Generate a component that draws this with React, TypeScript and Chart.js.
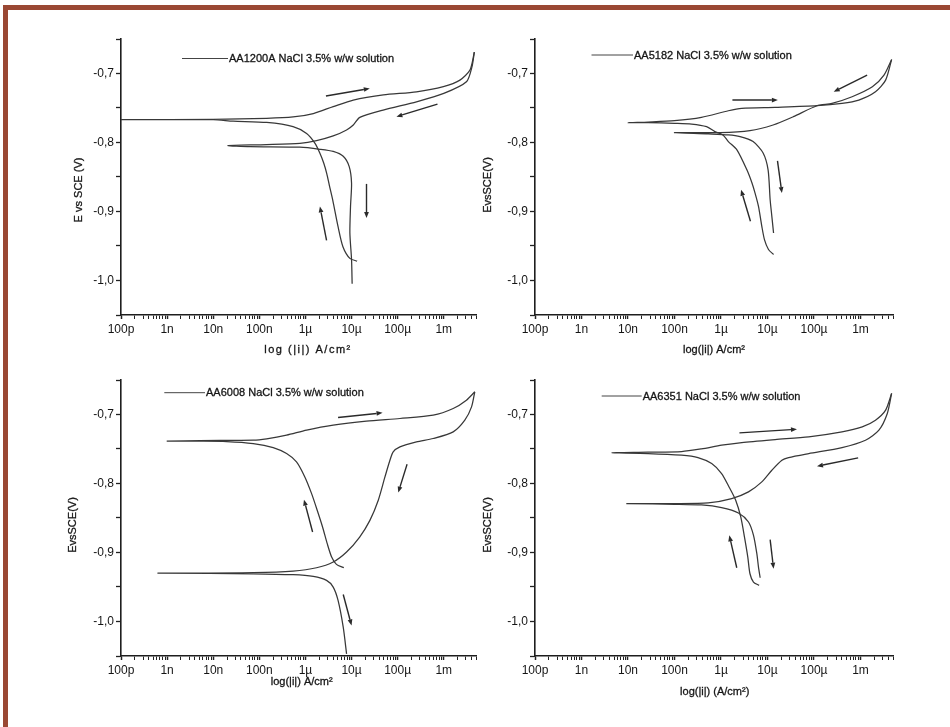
import React, { useEffect, useRef } from 'react';
import { Chart, registerables } from 'chart.js';

Chart.register(...registerables);

// ---------------- data ----------------
const xTickExponents = [-10, -9, -8, -7, -6, -5, -4, -3];
const xTickLabels = ['100p', '1n', '10n', '100n', '1µ', '10µ', '100µ', '1m'];
const yTickValues = [-0.7, -0.8, -0.9, -1.0];
const yTickLabels = ['-0,7', '-0,8', '-0,9', '-1,0'];

const legendLabels = [
  'AA1200A NaCl 3.5% w/w solution',
  'AA5182 NaCl 3.5% w/w solution',
  'AA6008 NaCl 3.5% w/w solution',
  'AA6351 NaCl 3.5% w/w solution',
];
const yTitles = ['E vs SCE (V)', 'EvsSCE(V)', 'EvsSCE(V)', 'EvsSCE(V)'];
const xTitles = ['log (|i|) A/cm²', 'log(|i|) A/cm²', 'log(|i|) A/cm²', 'log(|i|) (A/cm²)'];

// AA1200A
const aa1200ForwardI = [1.32e-5, 9.2e-6, 6.5e-6, 5.1e-6, 3.9e-6, 3.3e-6, 2.9e-6, 2.5e-6, 2.06e-6, 1.6e-6, 1.06e-6, 5.4e-7, 1.44e-7, 2.7e-8, 1e-8, 1e-10, 1e-8, 1.44e-7, 5.4e-7, 1.48e-6, 4e-6, 1.09e-5, 4.9e-5, 2.56e-4, 9.8e-4, 2.24e-3, 3.7e-3, 4.6e-3];
const aa1200ForwardE = [-0.972, -0.968, -0.951, -0.922, -0.883, -0.862, -0.845, -0.83, -0.8156, -0.801, -0.787, -0.777, -0.771, -0.769, -0.767, -0.767, -0.7665, -0.765, -0.763, -0.758, -0.748, -0.7385, -0.731, -0.7265, -0.719, -0.7096, -0.695, -0.669];
const aa1200ReverseI = [4.6e-3, 4.1e-3, 3.1e-3, 1e-3, 2.56e-4, 4.85e-5, 1.51e-5, 1.09e-5, 7.8e-6, 4e-6, 1.74e-6, 7.6e-7, 1.44e-7, 2.1e-8, 6.3e-8, 7.6e-7, 2.06e-6, 4e-6, 6.6e-6, 8.9e-6, 1e-5, 9.5e-6, 9.2e-6, 1e-5, 1.03e-5];
const aa1200ReverseE = [-0.669, -0.69, -0.712, -0.7289, -0.741, -0.753, -0.7636, -0.7746, -0.7818, -0.7905, -0.7973, -0.8011, -0.803, -0.8045, -0.806, -0.8068, -0.8098, -0.813, -0.82, -0.835, -0.859, -0.8926, -0.931, -0.9696, -1.0048];
const aa1200Arrows = [
  [2.78e-6, -0.7327, 2.49e-5, -0.7217],
  [7.3e-4, -0.7443, 9.4e-5, -0.7626],
  [2.87e-6, -0.9417, 2.06e-6, -0.8926],
  [2.11e-5, -0.86, 2.11e-5, -0.9094],
];

// AA5182
const aa5182ForwardI = [1.35e-5, 1.05e-5, 8.6e-6, 7.55e-6, 6.4e-6, 5.4e-6, 4.6e-6, 3.6e-6, 2.2e-6, 1.44e-6, 1.1e-6, 7.4e-7, 4.9e-7, 2.33e-7, 1e-7, 2.7e-8, 1e-8, 2.7e-8, 1e-7, 3.8e-7, 1.44e-6, 2.8e-6, 1.46e-5, 1.16e-4, 4.0e-4, 9.2e-4, 2.1e-3, 3.47e-3, 4.67e-3];
const aa5182ForwardE = [-0.9624, -0.955, -0.9407, -0.9215, -0.8926, -0.8733, -0.858, -0.8396, -0.8107, -0.7987, -0.789, -0.7843, -0.777, -0.7732, -0.7722, -0.7713, -0.7713, -0.7703, -0.7684, -0.7636, -0.754, -0.7506, -0.7491, -0.7467, -0.7433, -0.7385, -0.7265, -0.7096, -0.6798];
const aa5182ReverseI = [4.67e-3, 3.2e-3, 1.8e-3, 6.6e-4, 2.44e-4, 1.16e-4, 3.6e-5, 1.32e-5, 4.2e-6, 9.5e-7, 1e-7, 5.3e-7, 1.44e-6, 2.57e-6, 4.9e-6, 8.05e-6, 1.03e-5, 1.14e-5, 1.24e-5, 1.35e-5];
const aa5182ReverseE = [-0.6798, -0.7024, -0.7193, -0.7337, -0.7433, -0.7467, -0.7626, -0.7746, -0.7828, -0.7857, -0.7857, -0.7876, -0.789, -0.7915, -0.7987, -0.8151, -0.8396, -0.883, -0.907, -0.9311];
const aa5182Arrows = [
  [1.76e-6, -0.7385, 1.67e-5, -0.7385],
  [1.39e-3, -0.7024, 2.65e-4, -0.7265],
  [4.3e-6, -0.9142, 2.7e-6, -0.8685],
  [1.64e-5, -0.8266, 2.04e-5, -0.8733],
];

// AA6008
const aa6008ForwardI = [6.8e-6, 4.7e-6, 3.7e-6, 2.97e-6, 2.35e-6, 1.8e-6, 1.36e-6, 9.7e-7, 6.4e-7, 3.9e-7, 2.0e-7, 7.4e-8, 1.95e-8, 5.15e-9, 9.8e-10, 5.15e-9, 7.4e-8, 1.44e-7, 3.9e-7, 1.06e-6, 4e-6, 2.1e-5, 1.12e-4, 5.9e-4, 1.6e-3, 3.1e-3, 4.7e-3];
const aa6008ForwardE = [-0.922, -0.9172, -0.9066, -0.8872, -0.863, -0.8388, -0.8147, -0.7905, -0.7687, -0.7566, -0.7479, -0.7421, -0.7392, -0.7387, -0.7387, -0.7377, -0.7373, -0.7353, -0.73, -0.7227, -0.7155, -0.7097, -0.7058, -0.701, -0.6913, -0.6792, -0.6671];
const aa6008ReverseI = [4.7e-3, 4.0e-3, 2.86e-3, 1.6e-3, 5.9e-4, 2.56e-4, 1.12e-4, 8.0e-5, 6.8e-5, 5.3e-5, 3.8e-5, 2.5e-5, 1.5e-5, 7.8e-6, 4e-6, 1.74e-6, 5.4e-7, 7.4e-8, 5.15e-9, 6.4e-10, 7.4e-8, 5.4e-7, 1.48e-6, 2.87e-6, 4.0e-6, 5.1e-6, 6.6e-6, 7.8e-6];
const aa6008ReverseE = [-0.6671, -0.6889, -0.7082, -0.7252, -0.7348, -0.7397, -0.7469, -0.7542, -0.7663, -0.7905, -0.8243, -0.8534, -0.8776, -0.8993, -0.9138, -0.9221, -0.9269, -0.9293, -0.9298, -0.9298, -0.9308, -0.9322, -0.9347, -0.9404, -0.9501, -0.9695, -1.0082, -1.0469];
const aa6008Arrows = [
  [5.1e-6, -0.7044, 4.7e-5, -0.6976],
  [1.43e-6, -0.8703, 9.3e-7, -0.8234],
  [1.6e-4, -0.7721, 1.03e-4, -0.8132],
  [6.6e-6, -0.9608, 1.0e-5, -1.0058],
];

// AA6351
const aa6351ForwardI = [6.6e-6, 4.99e-6, 4.2e-6, 3.77e-6, 3.2e-6, 2.66e-6, 2.07e-6, 1.49e-6, 1.03e-6, 6.3e-7, 3.2e-7, 1.42e-7, 2.7e-8, 4.37e-9, 2.7e-8, 1.42e-7, 3.8e-7, 1.03e-6, 2.8e-6, 1.46e-5, 7.7e-5, 4.0e-4, 1.09e-3, 2.1e-3, 3.47e-3, 4.67e-3];
const aa6351ForwardE = [-0.9477, -0.9429, -0.9308, -0.9066, -0.8776, -0.8485, -0.8243, -0.805, -0.7856, -0.7711, -0.7624, -0.759, -0.7566, -0.7556, -0.7547, -0.7537, -0.7498, -0.7445, -0.7406, -0.7363, -0.7324, -0.7252, -0.7179, -0.7082, -0.6937, -0.6695];
const aa6351ReverseI = [4.67e-3, 3.77e-3, 2.49e-3, 1.28e-3, 4.0e-4, 7.7e-5, 2.84e-5, 2.04e-5, 1.24e-5, 7.55e-6, 3.9e-6, 1.7e-6, 5.3e-7, 1e-7, 9.2e-9, 1e-7, 3.8e-7, 1.03e-6, 2.37e-6, 3.9e-6, 5.0e-6, 5.9e-6, 6.4e-6, 6.95e-6];
const aa6351ReverseE = [-0.6695, -0.6985, -0.7227, -0.7373, -0.7479, -0.7566, -0.7624, -0.7663, -0.7808, -0.7977, -0.8122, -0.8219, -0.8282, -0.8292, -0.8292, -0.8301, -0.8311, -0.835, -0.8427, -0.8558, -0.8751, -0.9017, -0.9211, -0.9366];
const aa6351Arrows = [
  [2.49e-6, -0.7266, 4.3e-5, -0.7213],
  [8.9e-4, -0.7629, 1.16e-4, -0.775],
  [2.18e-6, -0.9221, 1.51e-6, -0.8751],
  [1.14e-5, -0.8814, 1.35e-5, -0.9235],
];

// ---------------- layout / style ----------------
const X_MIN = 1e-10;
const X_MAX = 5e-3;
const Y_MIN = -1.05;
const Y_MAX = -0.65;
const FONT = '"Liberation Sans", Arial, sans-serif';
const PAD_L = 75, PAD_T = 30, PAD_R = 15, PAD_B = 60;
const TEXT_COLOR = '#151515';

type Panel = {
  left: number; top: number; right: number; bottom: number;
  idx: number;
  fI: number[]; fE: number[]; rI: number[]; rE: number[];
  arrows: number[][];
  legDx: number; legDy: number; legLen: number;
  yTx: number; yTy: number; xTx: number; xTy: number; xSpacing: number;
};

const panels: Panel[] = [
  { left: 121, top: 39, right: 476, bottom: 315, idx: 0, fI: aa1200ForwardI, fE: aa1200ForwardE, rI: aa1200ReverseI, rE: aa1200ReverseE, arrows: aa1200Arrows, legDx: 61, legDy: 19.5, legLen: 46, yTx: -42, yTy: 151, xTx: 187, xTy: 35, xSpacing: 1.5 },
  { left: 535, top: 39, right: 893, bottom: 315, idx: 1, fI: aa5182ForwardI, fE: aa5182ForwardE, rI: aa5182ReverseI, rE: aa5182ReverseE, arrows: aa5182Arrows, legDx: 56.5, legDy: 16, legLen: 41.5, yTx: -47.5, yTy: 146, xTx: 179, xTy: 35, xSpacing: 0 },
  { left: 121, top: 380, right: 476, bottom: 656, idx: 2, fI: aa6008ForwardI, fE: aa6008ForwardE, rI: aa6008ReverseI, rE: aa6008ReverseE, arrows: aa6008Arrows, legDx: 43.3, legDy: 12.7, legLen: 40.7, yTx: -48, yTy: 145, xTx: 180.7, xTy: 25.7, xSpacing: 0 },
  { left: 535, top: 380, right: 893, bottom: 656, idx: 3, fI: aa6351ForwardI, fE: aa6351ForwardE, rI: aa6351ReverseI, rE: aa6351ReverseE, arrows: aa6351Arrows, legDx: 66.7, legDy: 16, legLen: 40, yTx: -47.5, yTy: 145, xTx: 179.7, xTy: 35.7, xSpacing: 0 },
];

function buildXTicks(): number[] {
  const out: number[] = [];
  for (const e of xTickExponents) {
    const d = Math.pow(10, e);
    for (let k = 1; k <= 9; k++) {
      const v = k * d;
      if (v <= X_MAX * 1.0001) out.push(v);
    }
  }
  return out;
}

function decadeLabel(v: number): string {
  const lg = Math.log10(v);
  const r = Math.round(lg);
  if (Math.abs(lg - r) < 1e-6) {
    const i = xTickExponents.indexOf(r);
    return i >= 0 ? xTickLabels[i] : '';
  }
  return '';
}

function yLabel(v: number): string {
  const i = yTickValues.findIndex((t) => Math.abs(t - v) < 1e-6);
  return i >= 0 ? yTickLabels[i] : '';
}

function PanelChart({ p }: { p: Panel }) {
  const ref = useRef<HTMLCanvasElement>(null);
  const w = p.right - p.left + PAD_L + PAD_R;
  const h = p.bottom - p.top + PAD_T + PAD_B;

  useEffect(() => {
    if (!ref.current) return;
    const overlay = {
      id: 'overlay' + p.idx,
      afterDraw(chart: any) {
        const ctx: CanvasRenderingContext2D = chart.ctx;
        const ca = chart.chartArea;
        const xs = chart.scales.x;
        const ys = chart.scales.y;
        ctx.save();
        // arrows
        ctx.strokeStyle = '#2a2a2a';
        ctx.fillStyle = '#2a2a2a';
        ctx.lineWidth = 1.4;
        for (const a of p.arrows) {
          const x1 = xs.getPixelForValue(a[0]);
          const y1 = ys.getPixelForValue(a[1]);
          const x2 = xs.getPixelForValue(a[2]);
          const y2 = ys.getPixelForValue(a[3]);
          const ang = Math.atan2(y2 - y1, x2 - x1);
          const hl = 6, hw = 2.4;
          const bx = x2 - hl * Math.cos(ang);
          const by = y2 - hl * Math.sin(ang);
          ctx.beginPath();
          ctx.moveTo(x1, y1);
          ctx.lineTo(bx, by);
          ctx.stroke();
          ctx.beginPath();
          ctx.moveTo(x2, y2);
          ctx.lineTo(bx + hw * Math.sin(ang), by - hw * Math.cos(ang));
          ctx.lineTo(bx - hw * Math.sin(ang), by + hw * Math.cos(ang));
          ctx.closePath();
          ctx.fill();
        }
        // legend
        const lx = ca.left + p.legDx;
        const ly = ca.top + p.legDy;
        ctx.strokeStyle = '#444';
        ctx.lineWidth = 1;
        ctx.beginPath();
        ctx.moveTo(lx, ly);
        ctx.lineTo(lx + p.legLen, ly);
        ctx.stroke();
        ctx.fillStyle = TEXT_COLOR;
        ctx.strokeStyle = TEXT_COLOR;
        ctx.lineWidth = 0.3;
        ctx.font = '11px ' + FONT;
        ctx.textAlign = 'left';
        ctx.textBaseline = 'middle';
        ctx.fillText(legendLabels[p.idx], lx + p.legLen + 1, ly + 0.5);
        ctx.strokeText(legendLabels[p.idx], lx + p.legLen + 1, ly + 0.5);
        // x title
        ctx.textAlign = 'center';
        if (p.xSpacing) (ctx as any).letterSpacing = p.xSpacing + 'px';
        ctx.fillText(xTitles[p.idx], ca.left + p.xTx, ca.bottom + p.xTy);
        ctx.strokeText(xTitles[p.idx], ca.left + p.xTx, ca.bottom + p.xTy);
        (ctx as any).letterSpacing = '0px';
        // y title
        ctx.translate(ca.left + p.yTx, ca.top + p.yTy);
        ctx.rotate(-Math.PI / 2);
        ctx.fillText(yTitles[p.idx], 0, 0);
        ctx.strokeText(yTitles[p.idx], 0, 0);
        ctx.restore();
      },
    };

    const xTicks = buildXTicks();
    const lineStyle = {
      showLine: true,
      borderColor: '#383838',
      borderWidth: 1.25,
      pointRadius: 0,
      pointHoverRadius: 0,
      tension: 0.25,
      fill: false,
    };

    const chart = new Chart(ref.current, {
      type: 'scatter',
      data: {
        datasets: [
          { ...lineStyle, data: p.fI.map((x, i) => ({ x, y: p.fE[i] })) },
          { ...lineStyle, data: p.rI.map((x, i) => ({ x, y: p.rE[i] })) },
        ],
      } as any,
      options: {
        responsive: false,
        animation: false,
        devicePixelRatio: 1,
        events: [],
        layout: { padding: { left: 0, top: PAD_T, right: PAD_R, bottom: 0 } },
        plugins: { legend: { display: false }, tooltip: { enabled: false } },
        scales: {
          x: {
            type: 'logarithmic',
            min: X_MIN,
            max: X_MAX,
            afterBuildTicks: (s: any) => {
              s.ticks = xTicks.map((v) => ({ value: v }));
            },
            afterFit: (s: any) => {
              s.height = PAD_B;
            },
            ticks: {
              autoSkip: false,
              maxRotation: 0,
              minRotation: 0,
              padding: 3,
              color: TEXT_COLOR,
              font: { family: FONT, size: 12 },
              callback: (v: any) => decadeLabel(Number(v)),
            },
            grid: {
              drawOnChartArea: false,
              drawTicks: true,
              tickLength: 4,
              tickColor: '#222',
              tickWidth: (c: any) => (decadeLabel(c.tick?.value ?? 1.5) ? 1.5 : 1),
            },
            border: { display: true, color: '#1e1e1e', width: 1.6 },
          },
          y: {
            type: 'linear',
            min: Y_MIN,
            max: Y_MAX,
            afterFit: (s: any) => {
              s.width = PAD_L;
            },
            ticks: {
              stepSize: 0.05,
              autoSkip: false,
              padding: 2,
              color: TEXT_COLOR,
              font: { family: FONT, size: 12 },
              callback: (v: any) => yLabel(Number(v)),
            },
            grid: {
              drawOnChartArea: false,
              drawTicks: true,
              tickLength: 5,
              tickColor: '#222',
              tickWidth: 1.3,
            },
            border: { display: true, color: '#1e1e1e', width: 1.6 },
          },
        },
      } as any,
      plugins: [overlay],
    });
    return () => chart.destroy();
  }, []);

  return (
    <canvas
      ref={ref}
      width={w}
      height={h}
      style={{ position: 'absolute', left: p.left - PAD_L, top: p.top - PAD_T, width: w, height: h }}
    />
  );
}

export default function App() {
  return (
    <div style={{ position: 'absolute', left: 0, top: 0, width: 950, height: 727, background: '#fff', overflow: 'hidden' }}>
      <div style={{ position: 'absolute', left: 3, top: 5, width: 947, height: 5, background: '#9a4833' }} />
      <div style={{ position: 'absolute', left: 3, top: 5, width: 5, height: 722, background: '#9a4833' }} />
      {panels.map((p) => (
        <PanelChart key={p.idx} p={p} />
      ))}
    </div>
  );
}
